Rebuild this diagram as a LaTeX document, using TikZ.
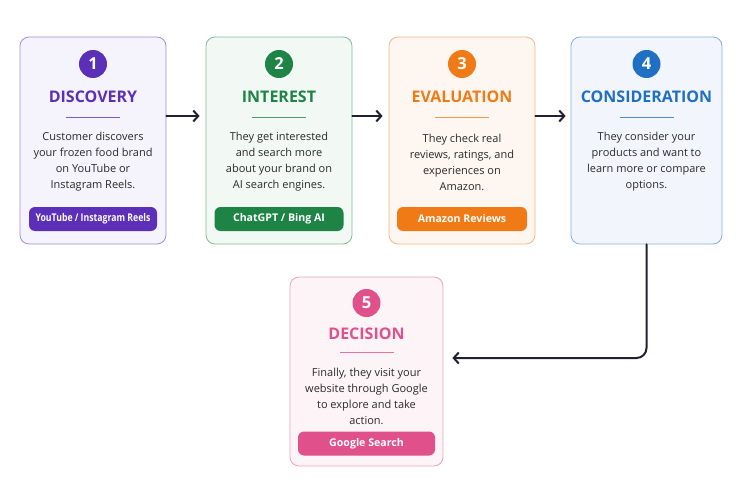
\documentclass[tikz,border=0pt]{standalone}
\usepackage{fontspec}
\setmainfont{Open Sans}
\usepackage{graphicx}
\usepackage{xcolor}
\usetikzlibrary{arrows.meta}
\definecolor{purp}{HTML}{5B2FB7}
\definecolor{leaf}{HTML}{1E8446}
\definecolor{tang}{HTML}{F07B16}
\definecolor{sky}{HTML}{1F6FC5}
\definecolor{rose}{HTML}{E0508A}
\definecolor{navy}{HTML}{1F2033}
\definecolor{ink}{HTML}{2A2A2A}

\begin{document}
\begin{tikzpicture}[x=1pt,y=-1pt,
  stage/.style={draw=#1!55, fill=#1!6, line width=0.8pt, rounded corners=9pt, inner sep=0pt},
  numdot/.style={circle, fill=#1, text=white, minimum size=28pt, inner sep=0pt, font=\bfseries\fontsize{16.5}{16}\selectfont},
  title/.style={text=#1, font=\bfseries\fontsize{16}{18}\selectfont},
  rule/.style={draw=#1!80, line width=1pt},
  body/.style={text=ink, align=center, font=\fontsize{11}{16}\selectfont},
  tag/.style={fill=#1, text=white, rounded corners=6pt, minimum height=24pt, inner sep=0pt, font=\bfseries\fontsize{10.6}{12}\selectfont},
  flow/.style={draw=navy, line width=2pt, line cap=round, -{Straight Barb[length=5pt,width=11pt]}}]
  \useasboundingbox (0,0) rectangle (750,500);
  % discovery
  \node[stage=purp, minimum width=146pt, minimum height=207pt] (box1) at (93,140.5) {};
  \node[numdot=purp] (num1) at (93,64) {1};
  \node[title=purp] (title1) at (93,97) {DISCOVERY};
  \draw[rule=purp] (66,118) -- (120,118);
  \node[body] (text1) at (93,162) {Customer discovers\\your frozen food brand\\on YouTube or\\Instagram Reels.};
  \node[tag=purp, minimum width=128pt] (tag1) at (93,219) {\scalebox{0.82}[1]{YouTube / Instagram Reels}};
  % interest
  \node[stage=leaf, minimum width=146pt, minimum height=207pt] (box2) at (279,140.5) {};
  \node[numdot=leaf] (num2) at (279,64) {2};
  \node[title=leaf] (title2) at (279,97) {INTEREST};
  \draw[rule=leaf] (252,118) -- (306,118);
  \node[body] (text2) at (279,162) {They get interested\\and search more\\about your brand on\\AI search engines.};
  \node[tag=leaf, minimum width=129pt] (tag2) at (279,219) {ChatGPT / Bing AI};
  % evaluation
  \node[stage=tang, minimum width=146pt, minimum height=207pt] (box3) at (462,140.5) {};
  \node[numdot=tang] (num3) at (462,64) {3};
  \node[title=tang] (title3) at (462,97) {EVALUATION};
  \draw[rule=tang] (435,118) -- (489,118);
  \node[body] (text3) at (462,162) {They check real\\reviews, ratings, and\\experiences on\\Amazon.};
  \node[tag=tang, minimum width=130pt] (tag3) at (462,219) {Amazon Reviews};
  % consideration
  \node[stage=sky, minimum width=151pt, minimum height=207pt] (box4) at (646.5,140.5) {};
  \node[numdot=sky] (num4) at (646.5,64) {4};
  \node[title=sky] (title4) at (646.5,97) {CONSIDERATION};
  \draw[rule=sky] (619.5,118) -- (673.5,118);
  \node[body] (text4) at (646.5,162) {They consider your\\products and want to\\learn more or compare\\options.};
  % decision
  \node[stage=rose, minimum width=153pt, minimum height=189pt] (box5) at (366.5,371.5) {};
  \node[numdot=rose] (num5) at (366.5,303) {5};
  \node[title=rose] (title5) at (366.5,334) {DECISION};
  \draw[rule=rose] (339.5,352) -- (393.5,352);
  \node[body] (text5) at (366.5,396) {Finally, they visit your\\website through Google\\to explore and take\\action.};
  \node[tag=rose, minimum width=137pt] (tag5) at (366.5,443.5) {Google Search};
  % connectors
  \draw[flow, shorten >=6pt] ([yshift=24.5pt]box1.east) -- ([yshift=24.5pt]box2.west);
  \draw[flow, shorten >=6pt] ([yshift=24.5pt]box2.east) -- ([yshift=24.5pt]box3.west);
  \draw[flow, shorten >=5pt] ([yshift=24.5pt]box3.east) -- ([yshift=24.5pt]box4.west);
  \draw[flow, shorten >=9pt, rounded corners=10pt] (box4.south) |- ([yshift=13.5pt]box5.east);
\end{tikzpicture}
\end{document}
